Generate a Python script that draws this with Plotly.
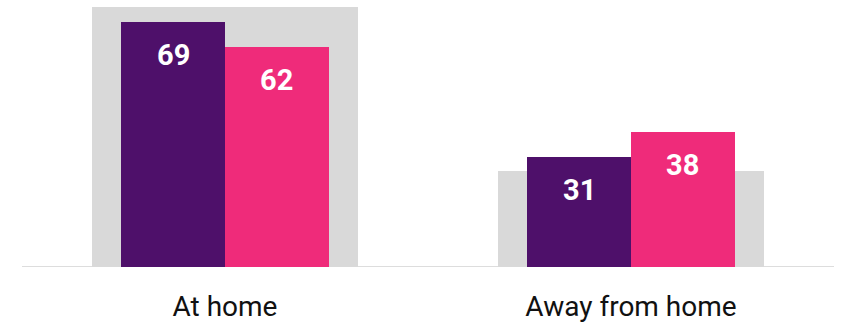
import plotly.graph_objects as go

categories = ["At home", "Away from home"]
background_values = [73, 27]
series_a_values = [69, 31]
series_b_values = [62, 38]

GREY = "#D9D9D9"
PURPLE = "#4E106A"
PINK = "#EF2B7A"

bg_width = 0.657
bar_w = 0.256

fig = go.Figure()
fig.add_trace(go.Bar(x=categories, y=background_values, width=bg_width,
                     marker=dict(color=GREY, line=dict(width=0)),
                     hoverinfo="skip", showlegend=False))
fig.add_trace(go.Bar(x=categories, y=series_a_values, width=bar_w, offset=-bar_w,
                     marker=dict(color=PURPLE, line=dict(width=0)), showlegend=False))
fig.add_trace(go.Bar(x=categories, y=series_b_values, width=bar_w, offset=0,
                     marker=dict(color=PINK, line=dict(width=0)), showlegend=False))

annotations = []
for i, (a, b) in enumerate(zip(series_a_values, series_b_values)):
    for xpos, v in ((i - bar_w / 2, a), (i + bar_w / 2, b)):
        annotations.append(dict(x=xpos, y=v, xref="x", yref="y", text=str(v),
                                showarrow=False, yanchor="top", yshift=-14,
                                font=dict(family="Roboto", size=29, color="white",
                                          weight="bold")))

fig.update_layout(
    width=845, height=322,
    margin=dict(l=22, r=11, t=0, b=55, pad=0),
    paper_bgcolor="white", plot_bgcolor="white",
    barmode="overlay", bargap=0,
    annotations=annotations,
    xaxis=dict(type="category", range=[-0.5, 1.5], showgrid=False, zeroline=False,
               showline=False, ticks="", ticklabelstandoff=20, automargin=False,
               tickfont=dict(family="Roboto", size=28, color="#111111")),
    yaxis=dict(range=[0, 75.1], visible=False, showgrid=False, zeroline=False),
)
fig.add_shape(type="line", xref="paper", yref="y", x0=0, x1=1, y0=0, y1=0,
              line=dict(color="#DDDDDD", width=2), layer="below")
fig.write_html("out.html")
